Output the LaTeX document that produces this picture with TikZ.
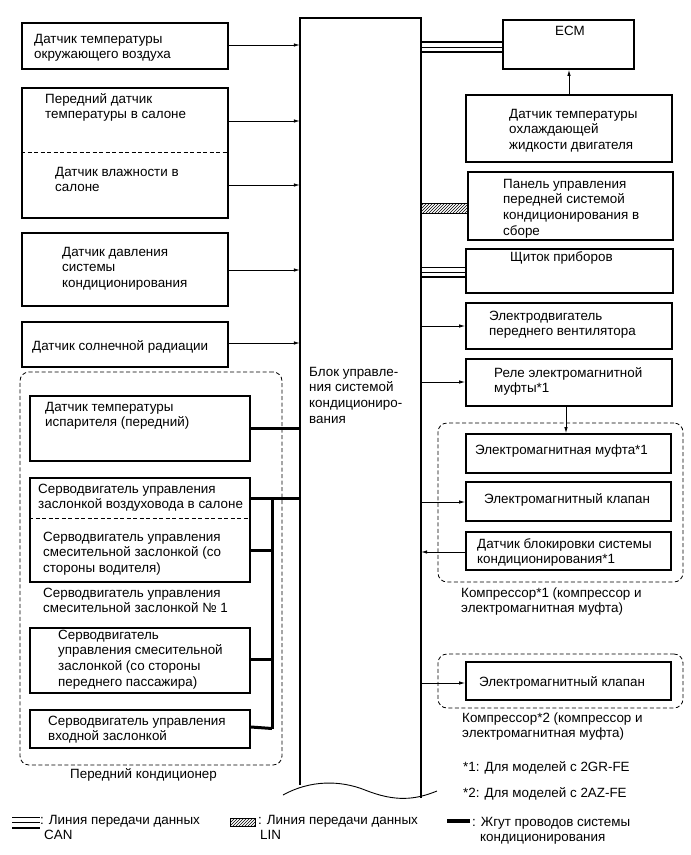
\documentclass[tikz,border=0pt]{standalone}
\usepackage{fontspec}
\setmainfont{Liberation Sans}
\usetikzlibrary{arrows.meta,fit,patterns,calc}
\newcommand{\mltext}[1]{\begin{tabular}[t]{@{}l@{}}#1\end{tabular}}
\begin{document}
\begin{tikzpicture}[x=1pt,y=-1pt,
  box/.style={draw, line width=1.8pt, inner sep=0pt},
  grp/.style={draw, line width=0.8pt, dash pattern=on 4pt off 2.5pt, rounded corners=9pt, inner sep=0pt},
  divline/.style={line width=0.8pt, dash pattern=on 4pt off 2.5pt},
  txt/.style={inner sep=0pt, anchor=base west, font=\fontsize{13.4}{15.7}\selectfont},
  arr/.style={line width=0.8pt, -{Latex[length=6pt,width=3.5pt]}},
  harn/.style={line width=3pt},
  canthick/.style={line width=1.8pt},
  canthin/.style={line width=0.9pt},
  blk/.style={line width=1.8pt}
]
\useasboundingbox (0,0) rectangle (691,855);

% central block
\node[inner sep=0pt, fit={(300,18) (421,785)}] (cb) {};
\draw[blk] (cb.south west) -- (cb.north west) -- (cb.north east) -- ++(0,780);
\draw[line width=0.9pt] (283,795) .. controls (310,780) and (340,780) .. (365,790) .. controls (395,802) and (415,800) .. (437,791);
\node[txt] (tcb) at (309,376) {\mltext{Блок управле-\\ния системой\\кондициониро-\\вания}};

% left boxes
\node[box, fit={(22,23) (228,69)}] (b1) {};
\node[txt] (t1) at (34,43) {\mltext{Датчик температуры\\окружающего воздуха}};
\node[box, fit={(22,88) (228,218)}] (b2) {};
\draw[divline] (b2.west |- 0,152) -- (b2.east |- 0,152);
\node[txt] (t2a) at (45,103) {\mltext{Передний датчик\\температуры в салоне}};
\node[txt] (t2b) at (55,176) {\mltext{Датчик влажности в\\салоне}};
\node[box, fit={(22,233) (228,306)}] (b3) {};
\node[txt] (t3) at (62,256) {\mltext{Датчик давления\\системы\\кондиционирования}};
\node[box, fit={(22,322) (228,367)}] (b4) {};
\node[txt] (t4) at (32,350) {Датчик солнечной радиации};

\node[grp, fit={(20,372) (282,765)}] (gl) {};
\node[txt] (tgl) at (70,778) {Передний кондиционер};
\node[box, fit={(30,396) (250,461)}] (b5) {};
\node[txt] (t5) at (45,411) {\mltext{Датчик температуры\\испарителя (передний)}};
\node[box, fit={(30,478) (250,582)}] (b6) {};
\draw[divline] (b6.west |- 0,518) -- (b6.east |- 0,518);
\node[txt] (t6a) at (38,493) {\mltext{Серводвигатель управления\\заслонкой воздуховода в салоне}};
\node[txt] (t6b) at (43,541) {\mltext{Серводвигатель управления\\смесительной заслонкой (со\\стороны водителя)}};
\node[txt] (t6c) at (43,597) {\mltext{Серводвигатель управления\\смесительной заслонкой № 1}};
\node[box, fit={(30,628) (250,693)}] (b7) {};
\node[txt] (t7) at (58,639) {\mltext{Серводвигатель\\управления смесительной\\заслонкой (со стороны\\переднего пассажира)}};
\node[box, fit={(30,710) (250,748)}] (b8) {};
\node[txt] (t8) at (48,725) {\mltext{Серводвигатель управления\\входной заслонкой}};

% left connectors
\draw[arr] (b1.east |- 0,45) -- (cb.west |- 0,45);
\draw[arr] (b2.east |- 0,121) -- (cb.west |- 0,121);
\draw[arr] (b2.east |- 0,185) -- (cb.west |- 0,185);
\draw[arr] (b3.east |- 0,270) -- (cb.west |- 0,270);
\draw[arr] (b4.east |- 0,343) -- (cb.west |- 0,343);
\draw[harn] (b5.east |- 0,428) -- (cb.west |- 0,428);
\draw[harn] (b6.east |- 0,498) -- (cb.west |- 0,498);
\coordinate (bt) at (272,498);
\coordinate (bb) at (272,728.5);
\draw[harn] (bt) -- (bb);
\draw[harn] (b6.east |- 0,550) -- (bt |- 0,550);
\draw[harn] (b7.east |- 0,659) -- (bt |- 0,659);
\draw[harn] (b8.east |- 0,727) -- (bb);

% right boxes
\node[box, fit={(503,20) (634,69)}] (ecm) {};
\node[txt, anchor=base] (tecm) at (570,35) {ECM};
\node[box, fit={(466,95) (672,162)}] (cool) {};
\node[txt] (tcool) at (509,118) {\mltext{Датчик температуры\\охлаждающей\\жидкости двигателя}};
\node[box, fit={(468,172) (673,240)}] (pan) {};
\node[txt] (tpan) at (503,188) {\mltext{Панель управления\\передней системой\\кондиционирования в\\сборе}};
\node[box, fit={(466,249) (673,293)}] (shch) {};
\node[txt] (tshch) at (510,261) {Щиток приборов};
\node[box, fit={(466,303) (672,349)}] (mot) {};
\node[txt] (tmot) at (489,320) {\mltext{Электродвигатель\\переднего вентилятора}};
\node[box, fit={(466,359) (672,406)}] (rel) {};
\node[txt] (trel) at (494,377) {\mltext{Реле электромагнитной\\муфты*1}};
\node[grp, fit={(438,423) (683,582)}] (gc1) {};
\node[txt] (tgc1) at (461,597) {\mltext{Компрессор*1 (компрессор и\\электромагнитная муфта)}};
\node[box, fit={(466,434) (671,473)}] (muf) {};
\node[txt] (tmuf) at (475,454) {Электромагнитная муфта*1};
\node[box, fit={(466,482) (671,521)}] (kl) {};
\node[txt] (tkl) at (484,503) {Электромагнитный клапан};
\node[box, fit={(466,532) (671,570)}] (blk) {};
\node[txt] (tblk) at (477,548) {\mltext{Датчик блокировки системы\\кондиционирования*1}};
\node[grp, fit={(438,654) (683,708)}] (gc2) {};
\node[txt] (tgc2) at (462,722) {\mltext{Компрессор*2 (компрессор и\\электромагнитная муфта)}};
\node[box, fit={(466,662) (671,700)}] (kl2) {};
\node[txt] (tkl2) at (479,686) {Электромагнитный клапан};
\node[txt] (fn1) at (463,771) {*1: Для моделей с 2GR-FE};
\node[txt] (fn2) at (463,797) {*2: Для моделей с 2AZ-FE};

% right connectors
\draw[canthick] (cb.east |- 0,42) -- (ecm.west |- 0,42);
\draw[canthin] (cb.east |- 0,47) -- (ecm.west |- 0,47);
\draw[canthick] (cb.east |- 0,52) -- (ecm.west |- 0,52);
\draw[arr] (cool.north -| 569,0) -- (ecm.south -| 569,0);
\draw[line width=0.8pt, pattern=north east lines] (cb.east |- 0,203) rectangle (pan.west |- 0,213);
\draw[canthin] (cb.east |- 0,267) -- (shch.west |- 0,267);
\draw[canthin] (cb.east |- 0,272) -- (shch.west |- 0,272);
\draw[canthick] (cb.east |- 0,277) -- (shch.west |- 0,277);
\draw[arr] (cb.east |- 0,326) -- (mot.west |- 0,326);
\draw[arr] (cb.east |- 0,382) -- (rel.west |- 0,382);
\draw[arr] (rel.south -| 566,0) -- (muf.north -| 566,0);
\draw[arr] (cb.east |- 0,502) -- (kl.west |- 0,502);
\draw[arr] (blk.west |- 0,552) -- (cb.east |- 0,552);
\draw[arr] (cb.east |- 0,683) -- (kl2.west |- 0,683);

% legend
\coordinate (lc1) at (12,817); \coordinate (lc2) at (40,817);
\draw[canthin] (lc1) -- (lc2);
\draw[canthin] ($(lc1)+(0,5)$) -- ($(lc2)+(0,5)$);
\draw[canthick] (12,828) -- (40,828);
\node[txt] (lcan) at (40,824) {\mltext{: Линия передачи данных\\\hspace*{4pt}CAN}};
\draw[line width=0.8pt, pattern=north east lines] (230,818) rectangle (255,826);
\node[txt] (llin) at (258,824) {\mltext{: Линия передачи данных\\\hspace*{2pt}LIN}};
\draw[line width=4pt] (447,821) -- (470,821);
\node[txt] (lhar) at (472,826) {\mltext{: Жгут проводов системы\\\hspace*{8pt}кондиционирования}};
\end{tikzpicture}
\end{document}
